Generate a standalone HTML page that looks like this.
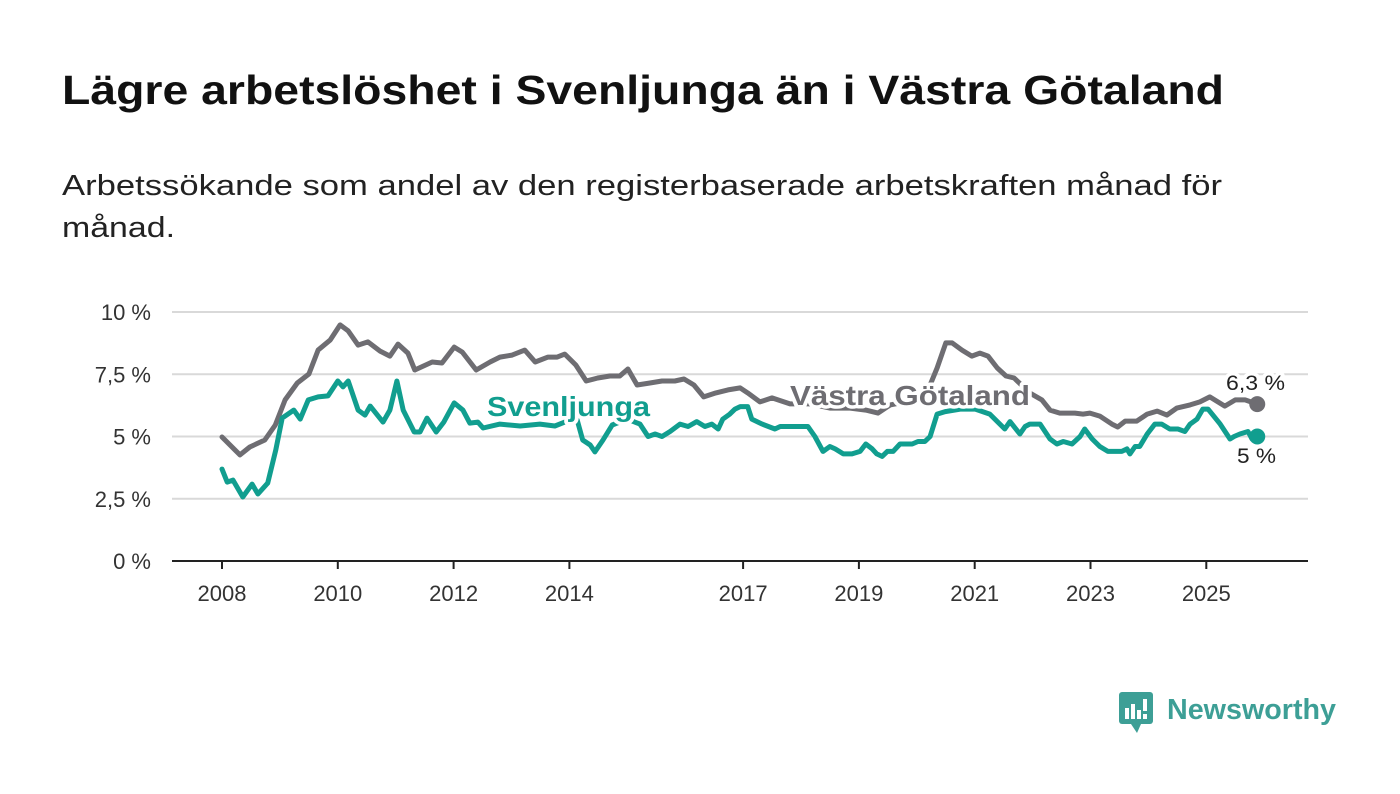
<!DOCTYPE html>
<html><head><meta charset="utf-8"><style>
html,body{margin:0;padding:0;background:#fff;width:1400px;height:794px;overflow:hidden;font-family:"Liberation Sans",sans-serif}
</style></head><body>
<svg id="chart" width="1400" height="794" viewBox="0 0 1400 794" xmlns="http://www.w3.org/2000/svg">
<text x="62" y="104" font-size="41" font-weight="bold" fill="#111" textLength="1162" lengthAdjust="spacingAndGlyphs">Lägre arbetslöshet i Svenljunga än i Västra Götaland</text>
<text x="62" y="195" font-size="29" fill="#222" textLength="1160" lengthAdjust="spacingAndGlyphs">Arbetssökande som andel av den registerbaserade arbetskraften månad för</text>
<text x="62" y="237" font-size="29" fill="#222" textLength="113" lengthAdjust="spacingAndGlyphs">månad.</text>
<g id="grid"></g><g id="series"></g><g id="labels"></g>
<g>
<rect x="1119" y="692" width="34" height="32" rx="3" fill="#3d9f96"/>
<path d="M1131 724 L1137 733 L1141 724 Z" fill="#3d9f96"/>
<rect x="1125" y="708" width="4" height="11" fill="#fff"/><rect x="1131" y="704" width="4" height="15" fill="#fff"/><rect x="1137" y="710" width="4" height="9" fill="#fff"/><rect x="1143" y="699" width="4" height="12" fill="#fff"/><rect x="1143" y="714" width="4" height="5" fill="#fff"/>
<text x="1167" y="719" font-size="29" font-weight="bold" fill="#3d9f96" textLength="169" lengthAdjust="spacingAndGlyphs">Newsworthy</text>
</g>
</svg>
<script>
const yTicks=[0,2.5,5,7.5,10];
const yTickLabels=["0 %","2,5 %","5 %","7,5 %","10 %"];
const xTicks=[2008,2010,2012,2014,2017,2019,2021,2023,2025];
const vgYears=[2008.00,2008.31,2008.48,2008.74,2008.92,2009.09,2009.30,2009.50,2009.66,2009.87,2010.04,2010.18,2010.35,2010.52,2010.73,2010.90,2011.04,2011.21,2011.33,2011.63,2011.80,2012.01,2012.15,2012.39,2012.63,2012.80,2013.01,2013.23,2013.41,2013.63,2013.79,2013.92,2014.11,2014.29,2014.49,2014.70,2014.87,2015.01,2015.17,2015.39,2015.60,2015.82,2015.98,2016.15,2016.32,2016.53,2016.74,2016.95,2017.08,2017.29,2017.50,2017.81,2018.16,2018.50,2018.85,2019.12,2019.33,2019.54,2019.80,2020.06,2020.23,2020.35,2020.50,2020.61,2020.78,2020.95,2021.09,2021.23,2021.39,2021.54,2021.68,2021.95,2022.16,2022.30,2022.47,2022.73,2022.87,2022.99,2023.16,2023.37,2023.47,2023.60,2023.80,2023.98,2024.15,2024.32,2024.49,2024.72,2024.89,2025.06,2025.32,2025.50,2025.67,2025.88];
const vgValues=[4.98,4.26,4.58,4.86,5.46,6.47,7.15,7.51,8.47,8.88,9.48,9.24,8.67,8.80,8.43,8.23,8.71,8.35,7.67,7.99,7.95,8.59,8.39,7.67,7.99,8.19,8.27,8.47,7.99,8.19,8.19,8.31,7.87,7.23,7.35,7.43,7.43,7.71,7.07,7.15,7.23,7.23,7.31,7.07,6.59,6.75,6.87,6.95,6.75,6.39,6.55,6.31,6.31,6.14,6.14,6.06,5.94,6.27,6.39,6.55,7.07,7.75,8.76,8.76,8.47,8.23,8.35,8.23,7.75,7.43,7.35,6.75,6.47,6.06,5.94,5.94,5.90,5.94,5.82,5.50,5.38,5.62,5.62,5.90,6.02,5.86,6.14,6.27,6.39,6.59,6.22,6.47,6.47,6.3];
const svYears=[2008.00,2008.09,2008.19,2008.36,2008.52,2008.62,2008.79,2008.93,2009.04,2009.24,2009.35,2009.49,2009.66,2009.83,2010.00,2010.09,2010.18,2010.35,2010.47,2010.56,2010.78,2010.90,2011.02,2011.13,2011.32,2011.42,2011.54,2011.70,2011.83,2012.01,2012.16,2012.28,2012.42,2012.51,2012.80,2013.15,2013.49,2013.75,2013.92,2014.11,2014.23,2014.36,2014.44,2014.58,2014.74,2015.00,2015.22,2015.36,2015.48,2015.60,2015.74,2015.91,2016.05,2016.20,2016.34,2016.46,2016.57,2016.65,2016.77,2016.86,2016.95,2017.08,2017.15,2017.33,2017.55,2017.64,2017.81,2018.12,2018.24,2018.38,2018.50,2018.59,2018.73,2018.88,2019.02,2019.12,2019.23,2019.31,2019.40,2019.49,2019.59,2019.71,2019.80,2019.92,2020.02,2020.14,2020.23,2020.35,2020.49,2020.75,2021.01,2021.26,2021.52,2021.61,2021.78,2021.87,2021.95,2022.13,2022.30,2022.42,2022.53,2022.68,2022.82,2022.90,2023.03,2023.16,2023.30,2023.42,2023.54,2023.63,2023.68,2023.77,2023.85,2023.98,2024.11,2024.23,2024.37,2024.51,2024.63,2024.72,2024.84,2024.94,2025.03,2025.10,2025.24,2025.41,2025.48,2025.58,2025.72,2025.79,2025.88];
const svValues=[3.69,3.17,3.25,2.57,3.09,2.69,3.13,4.46,5.74,6.06,5.70,6.47,6.59,6.63,7.23,6.99,7.23,6.06,5.86,6.22,5.58,6.06,7.23,6.06,5.18,5.18,5.74,5.18,5.58,6.35,6.06,5.54,5.58,5.34,5.5,5.42,5.5,5.42,5.58,5.86,4.86,4.66,4.38,4.86,5.46,5.7,5.5,5.0,5.1,5.0,5.2,5.5,5.4,5.6,5.4,5.5,5.3,5.7,5.9,6.1,6.2,6.2,5.7,5.5,5.3,5.4,5.4,5.4,5.0,4.4,4.6,4.5,4.3,4.3,4.4,4.7,4.5,4.3,4.2,4.4,4.4,4.7,4.7,4.7,4.8,4.8,5.0,5.9,6.0,6.1,6.1,5.9,5.3,5.6,5.1,5.4,5.5,5.5,4.9,4.7,4.8,4.7,5.0,5.3,4.9,4.6,4.4,4.4,4.4,4.5,4.3,4.6,4.6,5.1,5.5,5.5,5.3,5.3,5.2,5.5,5.7,6.1,6.1,5.9,5.5,4.9,5.0,5.1,5.2,4.9,5.0];
const lastLabels=["6,3 %","5 %"];

const NS="http://www.w3.org/2000/svg";
const X=y=>222+(y-2008)*57.9;
const Y=v=>561-v*24.9;
function mk(tag,attrs,parent){const e=document.createElementNS(NS,tag);for(const k in attrs)e.setAttribute(k,attrs[k]);parent.appendChild(e);return e;}
const grid=document.getElementById('grid');
yTicks.forEach((t,i)=>{
  if(t>0){const l=mk('line',{x1:172,x2:1308,y1:Y(t),y2:Y(t),stroke:'#d9d9d9','stroke-width':2},grid);
  
  }
  const tx=mk('text',{x:151,y:Y(t)+8,'text-anchor':'end','font-size':22,fill:'#333'},grid);
  tx.textContent=yTickLabels[i];
  
  
});
const ax=mk('line',{x1:172,x2:1308,y1:561,y2:561,stroke:'#222','stroke-width':2},grid);


xTicks.forEach(t=>{
  const tk=mk('line',{x1:X(t),x2:X(t),y1:561,y2:569,stroke:'#222','stroke-width':2},grid);
  
  
  const tx=mk('text',{x:X(t),y:601,'text-anchor':'middle','font-size':22,fill:'#333'},grid);
  tx.textContent=t;
  
  
});
const ser=document.getElementById('series');
function line(ys,vs,color,name){
  const d=ys.map((y,i)=>(i?'L':'M')+X(y).toFixed(1)+' '+Y(vs[i]).toFixed(1)).join(' ');
  const p=mk('path',{d:d,fill:'none',stroke:color,'stroke-width':5,'stroke-linejoin':'round','stroke-linecap':'round'},ser);
  
  
  const c=mk('circle',{cx:X(ys[ys.length-1]),cy:Y(vs[vs.length-1]),r:8,fill:color},ser);
  
  
}
line(vgYears,vgValues,'#6e6d72','vastra-gotaland-line');
line(svYears,svValues,'#119e8f','svenljunga-line');
const lab=document.getElementById('labels');
function label(txt,x,y,color,size,weight,len,name){
  const t=mk('text',{x:x,y:y,'font-size':size,'font-weight':weight,fill:color,stroke:'#fff','stroke-width':7,'paint-order':'stroke','stroke-linejoin':'round',textLength:len,lengthAdjust:'spacingAndGlyphs'},lab);
  t.textContent=txt;
  
  
}
label('Svenljunga',487,416,'#119e8f',28,'bold',163,'svenljunga-label');
label('Västra Götaland',790,405,'#6e6d72',28,'bold',240,'vastra-gotaland-label');
label(lastLabels[0],1226,390,'#222',21,'normal',59,'vastra-gotaland-last-value');
label(lastLabels[1],1237,463,'#222',21,'normal',39,'svenljunga-last-value');
</script>
</body></html>
